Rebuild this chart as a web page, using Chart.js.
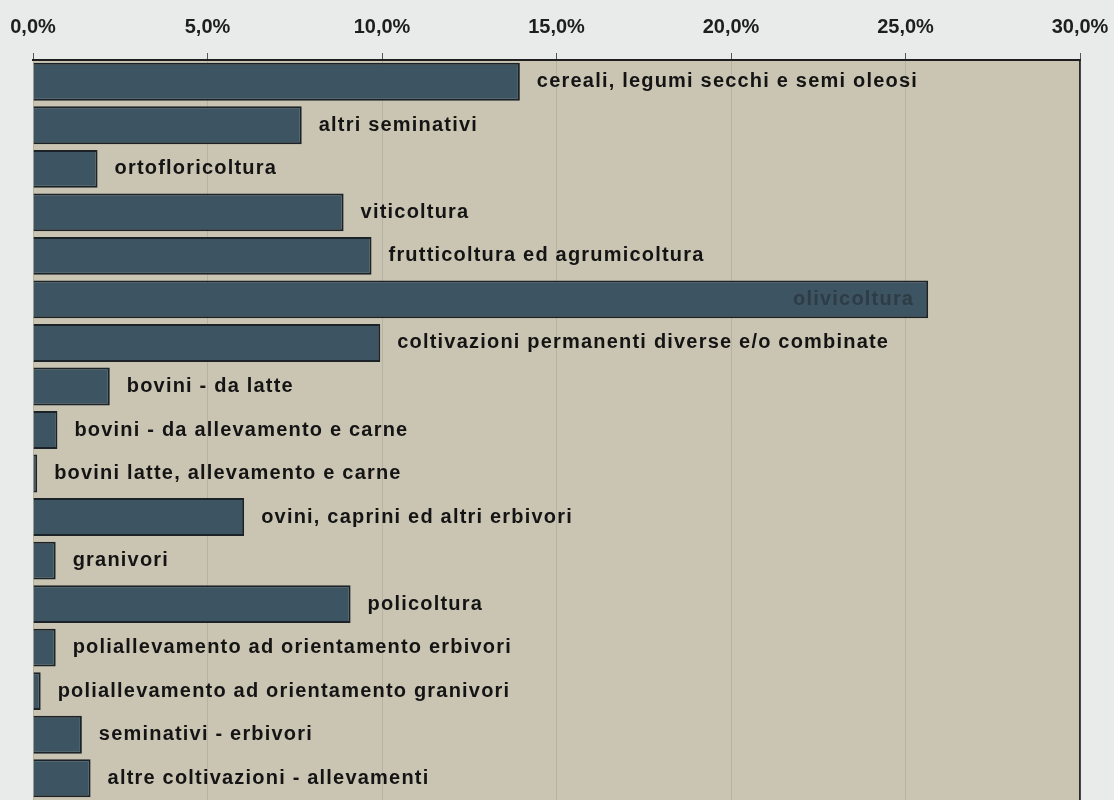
<!DOCTYPE html>
<html>
<head>
<meta charset="utf-8">
<script src="https://cdn.jsdelivr.net/npm/chart.js@4.4.1/dist/chart.umd.min.js"></script>
<style>
    html, body { margin: 0; padding: 0; background: #e8ebe9; overflow: hidden; }
    #wrap { width: 1114px; height: 800px; position: relative; }
</style>
</head>
<body>
<div id="wrap"><canvas id="orientChart"></canvas></div>
<script>
const categories = [
    'cereali, legumi secchi e semi oleosi',
    'altri seminativi',
    'ortofloricoltura',
    'viticoltura',
    'frutticoltura ed agrumicoltura',
    'olivicoltura',
    'coltivazioni permanenti diverse e/o combinate',
    'bovini - da latte',
    'bovini - da allevamento e carne',
    'bovini latte, allevamento e carne',
    'ovini, caprini ed altri erbivori',
    'granivori',
    'policoltura',
    'poliallevamento ad orientamento erbivori',
    'poliallevamento ad orientamento granivori',
    'seminativi - erbivori',
    'altre coltivazioni - allevamenti'
];
const shares = [13.95, 7.7, 1.85, 8.9, 9.7, 25.65, 9.95, 2.2, 0.7, 0.12, 6.05, 0.65, 9.1, 0.65, 0.22, 1.4, 1.65];
const tickValues = [0, 5, 10, 15, 20, 25, 30];
const insideLabels = ['olivicoltura'];

const plotBackground = {
    id: 'plotBackground',
    beforeDraw(chart) {
        const { ctx, chartArea: a } = chart;
        ctx.save();
        ctx.fillStyle = '#cac4b2';
        ctx.fillRect(a.left, a.top, a.right - a.left, a.bottom - a.top);
        ctx.strokeStyle = '#2a2a2a';
        ctx.lineWidth = 2;
        ctx.beginPath();
        ctx.moveTo(a.right, a.top);
        ctx.lineTo(a.right, a.bottom);
        ctx.stroke();
        ctx.restore();
    }
};

const barLabels = {
    id: 'barLabels',
    afterDatasetsDraw(chart) {
        const { ctx } = chart;
        const meta = chart.getDatasetMeta(0);
        ctx.save();
        ctx.font = 'bold 20px "Liberation Sans", Arial, sans-serif';
        ctx.letterSpacing = '1.2px';
        ctx.textBaseline = 'middle';
        meta.data.forEach((bar, i) => {
            const label = categories[i];
            if (insideLabels.includes(label)) {
                ctx.fillStyle = '#2e3c46';
                ctx.textAlign = 'right';
                ctx.fillText(label, bar.x - 14, bar.y);
            } else {
                ctx.fillStyle = '#141414';
                ctx.textAlign = 'left';
                ctx.fillText(label, bar.x + 17, bar.y);
            }
        });
        ctx.restore();
    }
};

window.addEventListener('load', function () {
    const ctx = document.getElementById('orientChart').getContext('2d');
    new Chart(ctx, {
        type: 'bar',
        data: {
            labels: categories,
            datasets: [{
                data: shares,
                backgroundColor: '#3d5462',
                borderColor: '#1b2329',
                borderWidth: 2,
                barPercentage: 0.87,
                categoryPercentage: 1
            }]
        },
        options: {
            indexAxis: 'y',
            responsive: true,
            maintainAspectRatio: false,
            animation: false,
            layout: {
                autoPadding: false,
                padding: { left: 33, right: 34, top: 0, bottom: 0 }
            },
            plugins: {
                legend: { display: false },
                tooltip: { enabled: false }
            },
            scales: {
                x: {
                    position: 'top',
                    min: 0,
                    max: 30,
                    afterBuildTicks(scale) {
                        scale.ticks = tickValues.map(v => ({ value: v }));
                    },
                    afterFit(scale) {
                        scale.height = 60;
                        scale.paddingLeft = 0;
                        scale.paddingRight = 0;
                    },
                    ticks: {
                        padding: 14,
                        color: '#1e1e1e',
                        font: { family: '"Liberation Sans", Arial, sans-serif', size: 20, weight: 'bold' },
                        callback: v => v.toFixed(1).replace('.', ',') + '%'
                    },
                    grid: {
                        color: 'rgba(140, 140, 130, 0.3)',
                        tickColor: '#555',
                        tickLength: 7
                    },
                    border: { color: '#1e1e1e', width: 2 }
                },
                y: {
                    display: false
                }
            }
        },
        plugins: [plotBackground, barLabels]
    });
});
</script>
</body>
</html>
